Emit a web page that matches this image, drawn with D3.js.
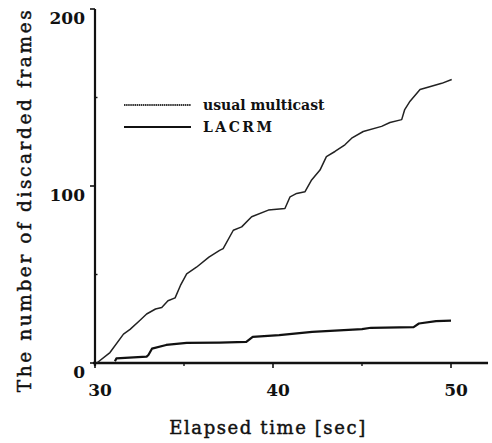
<!DOCTYPE html>
<html><head><meta charset="utf-8">
<script src="https://cdn.jsdelivr.net/npm/d3@7"></script>
<style>
body{margin:0;background:#fff;}
svg{display:block;}
text{font-family:"DejaVu Serif",serif;fill:#111;}
</style></head>
<body><svg id="c" width="492" height="443"></svg>
<script>
// time [sec]
const usualTime = [30.1,30.84,31.6,31.97,32.5,32.9,33.4,33.75,34.1,34.5,34.8,35.15,35.7,36.4,37.0,37.2,37.77,38.24,38.8,39.74,40.67,40.96,41.33,41.8,42.17,42.64,43.0,43.48,44.04,44.42,45.07,46.1,46.57,47.23,47.4,47.7,48.26,48.8,49.48,50.04];
const usualVal  = [0,5.9,16.3,19,23.9,27.7,30.5,31.4,35.2,36.8,43.8,50.4,54.1,59.8,63.6,64.6,75,76.9,82.6,86.4,87.3,93.9,95.8,96.8,103.4,109,116.6,119.5,123.3,127,130.8,133.7,135.9,137.5,143.2,147.9,154.5,156.1,158,160.2];
const lacrmTime = [31.12,31.2,32.9,33.0,33.2,34.0,35.15,37.0,38.5,38.86,40.35,42.2,45.0,45.5,47.9,48.2,49.16,50.0];
const lacrmVal  = [1.0,2.6,3.6,4.5,8.1,10.2,11.4,11.5,11.9,14.8,15.7,17.6,19.1,19.9,20.3,22.3,23.7,23.9];
const seriesNames = ["usual multicast","LACRM"];
const xMajor = [30,40,50];
const xMinor = [35,45];
const yMajor = [0,100,200];
const yMinor = [50,150];
const xTitle = "Elapsed time [sec]";
const yTitle = "The number of discarded frames";

const svg = d3.select("#c");
const x = d3.scaleLinear().domain([30,50]).range([95,451]);
const y = d3.scaleLinear().domain([0,200]).range([363,9]);
const xEnd = 52.08;

// axes lines
const ax = svg.append("g").attr("stroke","#111").attr("fill","none");
ax.append("line").attr("x1",x(30)-2).attr("x2",x(xEnd)).attr("y1",y(0)).attr("y2",y(0)).attr("stroke-width",2.6);
ax.append("line").attr("x1",x(30)).attr("x2",x(30)).attr("y1",y(200)).attr("y2",y(0)+3).attr("stroke-width",2.2);
// x ticks
xMajor.forEach(v=>ax.append("line").attr("x1",x(v)).attr("x2",x(v)).attr("y1",y(0)).attr("y2",y(0)+5).attr("stroke-width",1.6));
xMinor.forEach(v=>ax.append("line").attr("x1",x(v)).attr("x2",x(v)).attr("y1",y(0)).attr("y2",y(0)+3).attr("stroke-width",1.4));
// y ticks
yMajor.forEach(v=>ax.append("line").attr("x1",x(30)-5).attr("x2",x(30)).attr("y1",y(v)).attr("y2",y(v)).attr("stroke-width",1.6));
yMinor.forEach(v=>ax.append("line").attr("x1",x(30)).attr("x2",x(30)+2.5).attr("y1",y(v)).attr("y2",y(v)).attr("stroke-width",1.4));

// tick labels
svg.append("g").selectAll("text").data(xMajor).join("text")
  .attr("x",d=>x(d)+5).attr("y",y(0)+33).attr("text-anchor","middle")
  .attr("font-size",17).attr("font-weight","bold").text(d=>d);
svg.append("g").selectAll("text").data(yMajor).join("text")
  .attr("x",x(30)-10).attr("y",d=>y(d)+15).attr("text-anchor","end")
  .attr("font-size",17).attr("font-weight","bold").text(d=>d);

// titles
svg.append("text").attr("x",268).attr("y",434).attr("text-anchor","middle")
  .attr("font-size",18).attr("letter-spacing",1.6).attr("stroke","#111").attr("stroke-width",0.45).text(xTitle);
svg.append("text").attr("transform","translate(31,200) rotate(-90)").attr("text-anchor","middle")
  .attr("font-size",18.5).attr("letter-spacing",2.6).attr("stroke","#111").attr("stroke-width",0.45).text(yTitle);

// lines
const line = d3.line().x(d=>x(d[0])).y(d=>y(d[1])).curve(d3.curveLinear);
const usual = usualTime.map((t,i)=>[t,usualVal[i]]);
const lacrm = lacrmTime.map((t,i)=>[t,lacrmVal[i]]);
svg.append("path").datum(usual).attr("d",line).attr("fill","none").attr("stroke","#222").attr("stroke-width",1.5).attr("stroke-linejoin","round");
svg.append("path").datum(lacrm).attr("d",line).attr("fill","none").attr("stroke","#111").attr("stroke-width",2.2).attr("stroke-linejoin","round");

// legend
const lg = svg.append("g");
const ly = [105,127];
lg.append("line").attr("x1",124).attr("x2",191).attr("y1",ly[0]).attr("y2",ly[0]).attr("stroke","#333").attr("stroke-width",1.8).attr("stroke-dasharray","1.5,0.6");
lg.append("line").attr("x1",124).attr("x2",191).attr("y1",ly[1]).attr("y2",ly[1]).attr("stroke","#111").attr("stroke-width",1.8);
lg.selectAll("text").data(seriesNames).join("text")
  .attr("x",203).attr("y",(d,i)=>ly[i]+5).attr("font-size",14).attr("font-weight","bold")
  .attr("letter-spacing",(d,i)=>i===1?2.5:0).text(d=>d);
</script></body></html>
